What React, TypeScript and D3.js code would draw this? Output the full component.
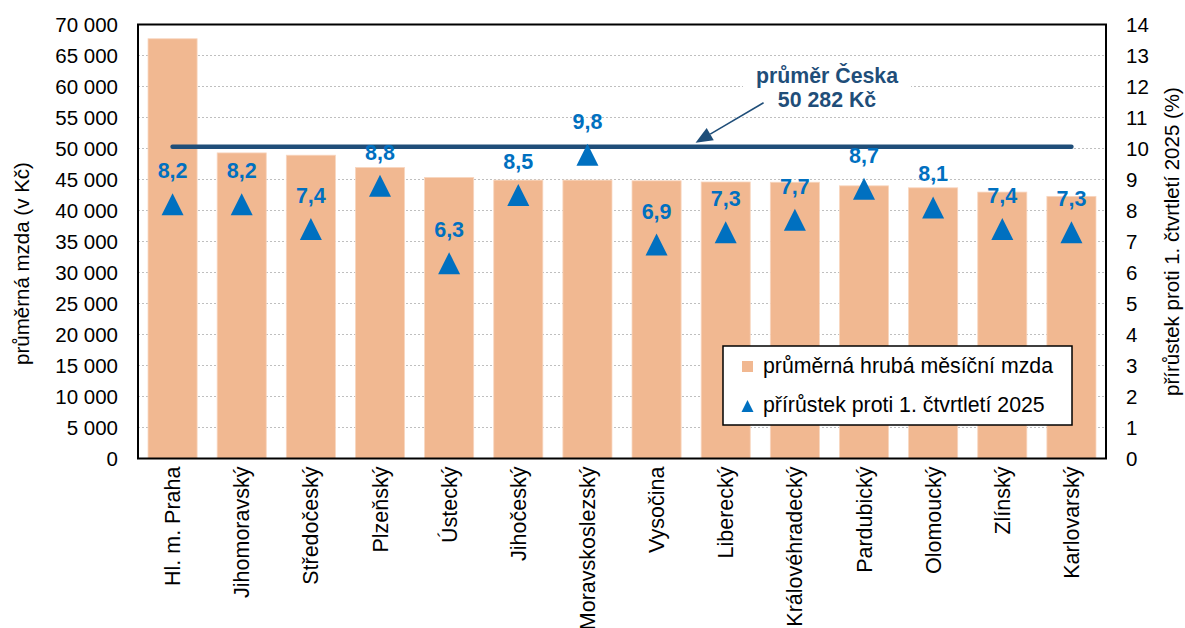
import React from "react";
import * as d3 from "d3";

// kraje seřazené podle průměrné mzdy
const regions = [
  "Hl. m. Praha",
  "Jihomoravský",
  "Středočeský",
  "Plzeňský",
  "Ústecký",
  "Jihočeský",
  "Moravskoslezský",
  "Vysočina",
  "Liberecký",
  "Královéhradecký",
  "Pardubický",
  "Olomoucký",
  "Zlínský",
  "Karlovarský",
];

// průměrná hrubá měsíční mzda (Kč)
const wages = [
  67700, 49290, 48920, 46940, 45330, 44900, 44900, 44790, 44600, 44560, 43980,
  43660, 42970, 42280,
];

// přírůstek proti 1. čtvrtletí 2025 (%)
const growth = [8.2, 8.2, 7.4, 8.8, 6.3, 8.5, 9.8, 6.9, 7.3, 7.7, 8.7, 8.1, 7.4, 7.3];

const czAverage = 50282;
const leftTicks = d3.range(0, 70001, 5000);
const rightTicks = d3.range(0, 15, 1);

const W = 1185;
const H = 628;
const plot = { left: 138, right: 1106, top: 24.5, bottom: 458.5 };

const BAR = "#F1B891";
const BLUE = "#0070C0";
const NAVY = "#1F4E79";
const FONT = "'Liberation Sans', Arial, sans-serif";

const fmtThousands = (v: number) => d3.format(",")(v).replace(/,/g, " ");
const fmtPct = (v: number) => v.toFixed(1).replace(".", ",");

// trojúhelník vycentrovaný na bod
const tri = (cx: number, cy: number, w: number, h: number) => {
  const p = d3.path();
  p.moveTo(cx, cy - h / 2);
  p.lineTo(cx + w / 2, cy + h / 2);
  p.lineTo(cx - w / 2, cy + h / 2);
  p.closePath();
  return p.toString();
};

export default function App() {
  const x = d3
    .scaleBand<string>()
    .domain(regions)
    .range([plot.left, plot.right])
    .paddingInner(0.29)
    .paddingOuter(0.145);
  const yL = d3.scaleLinear().domain([0, 70000]).range([plot.bottom, plot.top]);
  const yR = d3.scaleLinear().domain([0, 14]).range([plot.bottom, plot.top]);

  const cx = (r: string) => (x(r) ?? 0) + x.bandwidth() / 2;
  const avgY = yL(czAverage);
  const first = regions[0];
  const last = regions[regions.length - 1];

  // šipka anotace
  const tip = [plot.left + (plot.right - plot.left) * 0.576, avgY - 4];
  const tail = [tip[0] + 68, tip[1] - 40];
  const ang = Math.atan2(tail[1] - tip[1], tail[0] - tip[0]);
  const headLen = 17;
  const headW = 7;
  const bx = tip[0] + Math.cos(ang) * headLen;
  const by = tip[1] + Math.sin(ang) * headLen;
  const head = d3.path();
  head.moveTo(tip[0], tip[1]);
  head.lineTo(bx - Math.sin(ang) * headW, by + Math.cos(ang) * headW);
  head.lineTo(bx + Math.sin(ang) * headW, by - Math.cos(ang) * headW);
  head.closePath();

  const legend = { x: 723, y: 346, w: 349, h: 79 };

  return (
    <svg
      width={W}
      height={H}
      style={{ position: "absolute", left: 0, top: 0, background: "#fff" }}
      fontFamily={FONT}
    >
      <rect width={W} height={H} fill="#fff" />

      {/* mřížka */}
      <g>
        {leftTicks.map((t) => (
          <line
            key={t}
            x1={plot.left}
            x2={plot.right}
            y1={yL(t)}
            y2={yL(t)}
            stroke="#BFBFBF"
            strokeWidth={1}
            strokeDasharray="2 2"
          />
        ))}
      </g>

      {/* bílé pozadí popisku průměru */}
      <rect x={743} y={60} width={168} height={53} fill="#fff" />

      {/* sloupce */}
      <g>
        {regions.map((r, i) => (
          <rect
            key={r}
            x={x(r)}
            y={yL(wages[i])}
            width={x.bandwidth()}
            height={yL(0) - yL(wages[i])}
            fill={BAR}
            stroke="#F8D6C0"
            strokeWidth={0.8}
          />
        ))}
      </g>

      {/* průměr Česka */}
      <line
        x1={cx(first)}
        x2={cx(last)}
        y1={avgY}
        y2={avgY}
        stroke={NAVY}
        strokeWidth={4.5}
        strokeLinecap="round"
      />
      <line x1={tail[0]} y1={tail[1]} x2={bx} y2={by} stroke={NAVY} strokeWidth={1.5} />
      <path d={head.toString()} fill={NAVY} />
      <text
        x={827}
        y={83}
        textAnchor="middle"
        fontWeight="bold"
        fontSize={21.3}
        fill={NAVY}
      >
        průměr Česka
      </text>
      <text
        x={827}
        y={107}
        textAnchor="middle"
        fontWeight="bold"
        fontSize={21.3}
        fill={NAVY}
      >
        {fmtThousands(czAverage)} Kč
      </text>

      {/* přírůstky */}
      <g>
        {regions.map((r, i) => (
          <g key={r}>
            <path d={tri(cx(r), yR(growth[i]), 22, 22)} fill={BLUE} />
            <text
              x={cx(r)}
              y={yR(growth[i]) - 26}
              textAnchor="middle"
              fontWeight="bold"
              fontSize={21.5}
              fill={BLUE}
            >
              {fmtPct(growth[i])}
            </text>
          </g>
        ))}
      </g>

      {/* rámeček grafu */}
      <rect
        x={plot.left}
        y={plot.top}
        width={plot.right - plot.left}
        height={plot.bottom - plot.top}
        fill="none"
        stroke="#000"
        strokeWidth={2}
      />

      {/* osa vlevo */}
      <g fontSize={20.5} fill="#000">
        {leftTicks.map((t) => (
          <text key={t} x={118} y={yL(t)} dy="0.35em" textAnchor="end">
            {fmtThousands(t)}
          </text>
        ))}
      </g>
      {/* osa vpravo */}
      <g fontSize={20.5} fill="#000">
        {rightTicks.map((t) => (
          <text key={t} x={1126} y={yR(t)} dy="0.35em" textAnchor="start">
            {t}
          </text>
        ))}
      </g>

      {/* popisky kategorií */}
      <g fontSize={21.5} fill="#000">
        {regions.map((r) => (
          <text
            key={r}
            transform={`translate(${cx(r)},${plot.bottom + 8}) rotate(-90)`}
            dy="0.35em"
            textAnchor="end"
          >
            {r}
          </text>
        ))}
      </g>

      {/* názvy os */}
      <text
        transform={`translate(22,${(plot.top + plot.bottom) / 2 + 22}) rotate(-90)`}
        dy="0.35em"
        textAnchor="middle"
        fontSize={20.5}
      >
        průměrná mzda (v Kč)
      </text>
      <text
        transform={`translate(1172,${(plot.top + plot.bottom) / 2}) rotate(-90)`}
        dy="0.35em"
        textAnchor="middle"
        fontSize={20.5}
      >
        přírůstek proti 1. čtvrtletí 2025 (%)
      </text>

      {/* legenda */}
      <g>
        <rect
          x={legend.x}
          y={legend.y}
          width={legend.w}
          height={legend.h}
          fill="#fff"
          stroke="#000"
          strokeWidth={1.5}
        />
        <rect x={742} y={361} width={11} height={11} fill={BAR} />
        <text x={763} y={373} fontSize={21.3}>
          průměrná hrubá měsíční mzda
        </text>
        <path d={tri(747.5, 406, 12, 12)} fill={BLUE} />
        <text x={763} y={412} fontSize={21.3}>
          přírůstek proti 1. čtvrtletí 2025
        </text>
      </g>
    </svg>
  );
}
